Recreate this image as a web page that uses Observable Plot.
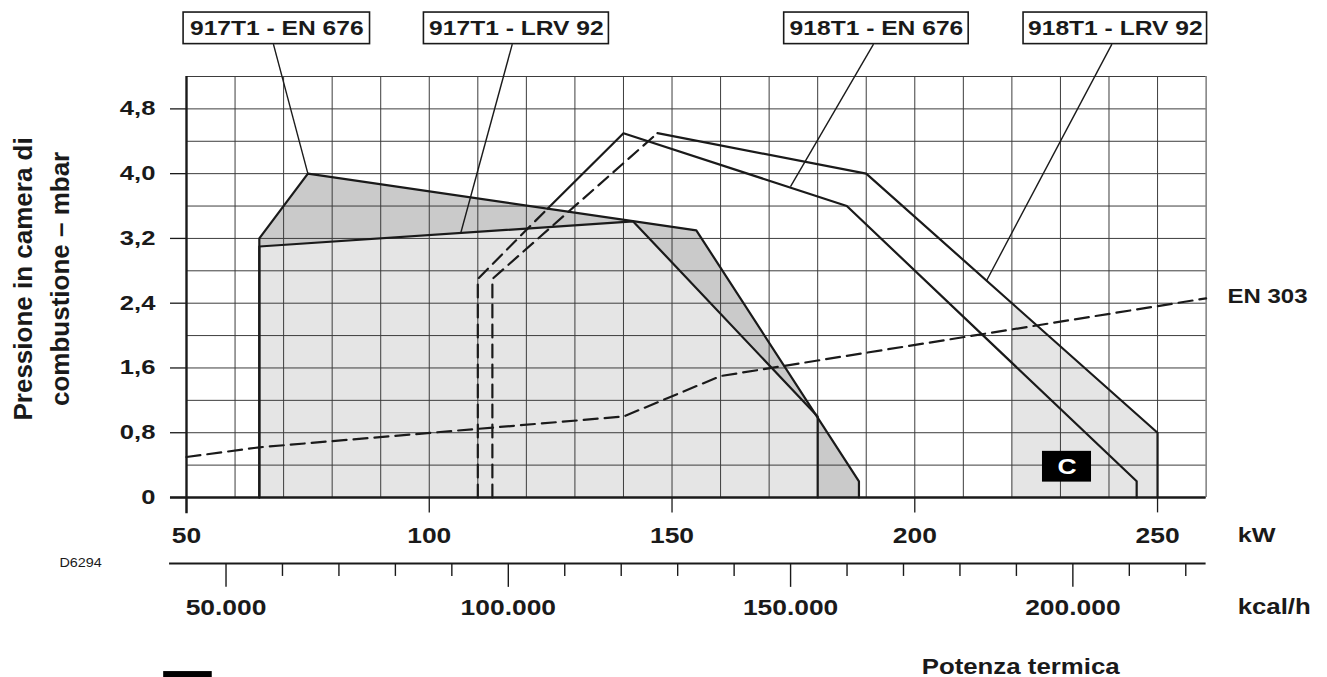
<!DOCTYPE html>
<html>
<head>
<meta charset="utf-8">
<script src="https://cdn.jsdelivr.net/npm/d3@7"></script>
<script src="https://cdn.jsdelivr.net/npm/@observablehq/plot@0.6"></script>
<style>
  html, body { margin: 0; padding: 0; background: #fff; }
  #chart svg { display: block; max-width: none; }
</style>
</head>
<body>
<div id="chart"></div>
<script>
// ---------- axis / tick data ----------
const kwGrid = [50, 60, 70, 80, 90, 100, 110, 120, 130, 140, 150, 160, 170, 180, 190, 200, 210, 220, 230, 240, 250, 260];
const kwTicks = [50, 100, 150, 200, 250];
const kwTickLabels = ["50", "100", "150", "200", "250"];
const mbarGrid = [0, 0.4, 0.8, 1.2, 1.6, 2.0, 2.4, 2.8, 3.2, 3.6, 4.0, 4.4, 4.8, 5.2];
const mbarTicks = [0, 0.8, 1.6, 2.4, 3.2, 4.0, 4.8];
const mbarTickLabels = ["0", "0,8", "1,6", "2,4", "3,2", "4,0", "4,8"];
const kcalTicks = [50000, 60000, 70000, 80000, 90000, 100000, 110000, 120000, 130000, 140000, 150000, 160000, 170000, 180000, 190000, 200000, 210000, 220000];
const kcalMajor = [50000, 100000, 150000, 200000];
const kcalLabels = ["50.000", "100.000", "150.000", "200.000"];
const kcalAxisStart = 40000;
const KCAL_PER_KW = 860;

// ---------- series (kW, mbar) ----------
const en676_917_kw   = [65, 65, 75, 155, 188.5, 188.5];
const en676_917_mbar = [0, 3.2, 4.0, 3.3, 0.2, 0];
const lrv92_917_kw   = [65, 65, 142, 180, 180];
const lrv92_917_mbar = [0, 3.1, 3.41, 1.0, 0];
const en676_918_kw   = [110, 110, 124.4, 140, 186, 245.7, 245.7];
const en676_918_mbar = [0, 2.7, 3.57, 4.5, 3.6, 0.2, 0];
const lrv92_918_kw   = [113, 113, 147, 190, 250, 250];
const lrv92_918_mbar = [0, 2.7, 4.5, 4.0, 0.8, 0];
const en303_kw   = [50, 65, 140, 160, 260];
const en303_mbar = [0.5, 0.62, 1.0, 1.5, 2.46];
const zoneC_kw = [220, 250];

const seriesNames = ["917T1 - EN 676", "917T1 - LRV 92", "918T1 - EN 676", "918T1 - LRV 92"];

// ---------- helpers ----------
const pts = (xs, ys) => xs.map((x, i) => ({kw: x, mbar: ys[i]}));
const en676_917 = pts(en676_917_kw, en676_917_mbar);
const lrv92_917 = pts(lrv92_917_kw, lrv92_917_mbar);
const en676_918 = pts(en676_918_kw, en676_918_mbar);
const lrv92_918 = pts(lrv92_918_kw, lrv92_918_mbar);
const en303 = pts(en303_kw, en303_mbar);
// dashed part of the 918T1 curves (inside the 917T1 field)
const en676_918_dash = en676_918.slice(0, 3), en676_918_solid = en676_918.slice(2);
const lrv92_918_dash = lrv92_918.slice(0, 3), lrv92_918_solid = lrv92_918.slice(2);

// value of a polyline at x (for the boundary of zone C)
function valueAt(series, x) {
  for (let i = 1; i < series.length; i++) {
    const a = series[i - 1], b = series[i];
    if (b.kw !== a.kw && x >= Math.min(a.kw, b.kw) && x <= Math.max(a.kw, b.kw)) {
      return a.mbar + (b.mbar - a.mbar) * (x - a.kw) / (b.kw - a.kw);
    }
  }
  return 0;
}
const zoneC = zoneC_kw.map(x => ({kw: x, mbar: valueAt(lrv92_918.slice(2, 5), x)}));

const kcalData = kcalTicks.map(k => ({kw: k / KCAL_PER_KW, major: kcalMajor.includes(k)}));
const kcalLabelData = kcalMajor.map((k, i) => ({kw: k / KCAL_PER_KW, label: kcalLabels[i]}));

// annotation boxes (in kW / mbar)
const boxes = [
  {x1: 49.4, x2: 87.8, name: seriesNames[0], lx: 67.9, tx: 75, ty: 4.0},
  {x1: 98.9, x2: 137.0, name: seriesNames[1], lx: 117.1, tx: 106.5, ty: 3.27},
  {x1: 173.1, x2: 211.1, name: seriesNames[2], lx: 191.5, tx: 174.4, ty: 3.84},
  {x1: 222.4, x2: 260.2, name: seriesNames[3], lx: 240.6, tx: 214.8, ty: 2.68}
];
const boxY1 = 5.60, boxY2 = 5.99;

const INK = "#1a1a1a", GRID = "#3d3d3d", DARK = "#cacaca", LIGHT = "#e5e5e5";
const FONT = "Liberation Sans, Arial, Helvetica, sans-serif";
const X = {x: "kw", y: "mbar"};

const chart = Plot.plot({
  width: 1327,
  height: 677,
  marginLeft: 186,
  marginRight: 121.4,
  marginTop: 76,
  marginBottom: 180,
  x: {domain: [50, 260], axis: null},
  y: {domain: [0, 5.2], axis: null},
  style: {fontFamily: FONT, background: "#fff", color: INK, overflow: "visible"},
  marks: [
    // fields
    Plot.area(en676_917, {x1: "kw", y1: 0, y2: "mbar", fill: DARK}),
    Plot.area(lrv92_917, {x1: "kw", y1: 0, y2: "mbar", fill: LIGHT}),
    Plot.area(zoneC, {x1: "kw", y1: 0, y2: "mbar", fill: LIGHT}),
    // grid
    Plot.ruleX(kwGrid, {stroke: GRID, strokeWidth: 1}),
    Plot.ruleY(mbarGrid, {stroke: GRID, strokeWidth: 1}),
    // axes
    Plot.ruleY(mbarTicks, {x1: 46.7, x2: 50, stroke: INK, strokeWidth: 1.3}),
    Plot.ruleX(kwTicks, {y1: 0, y2: -0.19, stroke: INK, strokeWidth: 1.3}),
    Plot.ruleX([50], {y1: 5.2, y2: -0.2, stroke: INK, strokeWidth: 2.4}),
    Plot.ruleY([0], {x1: 46.7, x2: 260, stroke: INK, strokeWidth: 2.4}),
    // secondary kcal/h axis
    Plot.ruleY([-0.815], {x1: kcalAxisStart / KCAL_PER_KW, x2: 260, stroke: INK, strokeWidth: 2.2}),
    Plot.ruleX(kcalData, {x: "kw", y1: -0.815, y2: d => d.major ? -1.11 : -0.975, stroke: INK, strokeWidth: 1.4}),
    // curves
    Plot.line(en676_917, {...X, stroke: INK, strokeWidth: 2.2}),
    Plot.line(lrv92_917, {...X, stroke: INK, strokeWidth: 2.2}),
    Plot.line(en676_918_dash, {...X, stroke: INK, strokeWidth: 2.2, strokeDasharray: "13,7"}),
    Plot.line(en676_918_solid, {...X, stroke: INK, strokeWidth: 2.2}),
    Plot.line(lrv92_918_dash, {...X, stroke: INK, strokeWidth: 2.2, strokeDasharray: "13,7"}),
    Plot.line(lrv92_918_solid, {...X, stroke: INK, strokeWidth: 2.2}),
    Plot.line(en303, {...X, stroke: INK, strokeWidth: 2.2, strokeDasharray: "14,7"}),
    // leaders + labels
    Plot.link(boxes, {x1: "lx", y1: boxY1, x2: "tx", y2: "ty", stroke: INK, strokeWidth: 1.4}),
    Plot.rect(boxes, {x1: "x1", x2: "x2", y1: boxY1, y2: boxY2, fill: "#fff", stroke: INK, strokeWidth: 1.6}),
    Plot.text(boxes, {x: d => (d.x1 + d.x2) / 2, y: (boxY1 + boxY2) / 2, text: "name", fontSize: 20.5, fontWeight: "bold", fill: INK}),
    // zone C marker
    Plot.rect([{x1: 226.3, x2: 236.4}], {x1: "x1", x2: "x2", y1: 0.19, y2: 0.57, fill: "#000"}),
    Plot.text(["C"], {x: 231.35, y: 0.38, text: d => d, fill: "#fff", fontSize: 22, fontWeight: "bold"}),
    // legend key cut off at the bottom edge of the drawing
    Plot.rect([{x1: 45.3, x2: 55.3}], {x1: "x1", x2: "x2", y1: -2.6, y2: -2.15, fill: "#000"}),
    // tick labels
    Plot.text(mbarTicks, {x: 43.6, y: d => d, text: (d, i) => mbarTickLabels[i], textAnchor: "end", fontSize: 20, fontWeight: "bold", fill: INK}),
    Plot.text(kwTicks, {x: d => d, y: -0.47, text: (d, i) => kwTickLabels[i], fontSize: 22, fontWeight: "bold", fill: INK}),
    Plot.text(kcalLabelData, {x: "kw", y: -1.36, text: "label", fontSize: 22, fontWeight: "bold", fill: INK}),
    Plot.text(["kW"], {x: 266.5, y: -0.47, text: d => d, textAnchor: "start", fontSize: 21, fontWeight: "bold", fill: INK}),
    Plot.text(["kcal/h"], {x: 266.5, y: -1.36, text: d => d, textAnchor: "start", fontSize: 21.5, fontWeight: "bold", fill: INK}),
    Plot.text(["Potenza termica"], {x: 221.8, y: -2.09, text: d => d, fontSize: 21.5, fontWeight: "bold", fill: INK}),
    Plot.text(["EN 303"], {x: 264.4, y: 2.48, text: d => d, textAnchor: "start", fontSize: 20, fontWeight: "bold", fill: INK}),
    Plot.text(["D6294"], {x: 28.2, y: -0.815, text: d => d, fontSize: 12, fill: INK}),
    // y title
    Plot.text(["Pressione in camera di"], {x: 16.4, y: 2.70, text: d => d, rotate: -90, fontSize: 26, fontWeight: "bold", fill: INK}),
    Plot.text(["combustione \u2013 mbar"], {x: 24.0, y: 2.70, text: d => d, rotate: -90, fontSize: 26, fontWeight: "bold", fill: INK})
  ]
});

document.getElementById("chart").append(chart);

// the source drawing is horizontally stretched: widen horizontal text accordingly
chart.querySelectorAll("text").forEach(t => {
  const tr = t.getAttribute("transform") || "";
  if (tr.includes("rotate")) return;
  if (t.querySelector("tspan")) return;
  const len = t.getComputedTextLength();
  if (!len) return;
  const f = mbarTickLabels.includes(t.textContent) ? 1.28 : 1.2;
  t.setAttribute("textLength", (len * f).toFixed(1));
  t.setAttribute("lengthAdjust", "spacingAndGlyphs");
});
</script>
</body>
</html>
